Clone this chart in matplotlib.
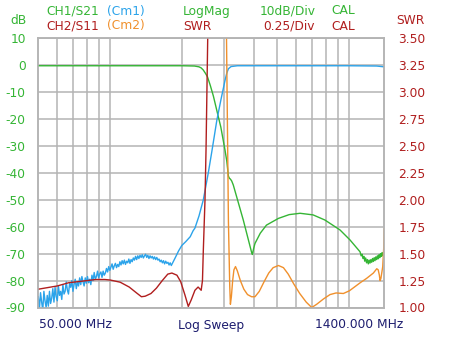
import numpy as np
import matplotlib.pyplot as plt

# Colours
GREEN = "#35b535"
RED = "#b01e1e"
BLUE = "#2ba3ea"
ORANGE = "#f0902c"
NAVY = "#1c1c6e"
GRID = "#b4b4b4"

# Sweep / scale settings
f_start, f_stop = 50, 1400
db_ticks = list(range(-90, 11, 10))
swr_ticks = [1.00, 1.25, 1.50, 1.75, 2.00, 2.25, 2.50, 2.75, 3.00, 3.25, 3.50]
grid_freqs = [60, 70, 80, 90, 100, 200, 300, 400, 500, 600, 700, 800, 900, 1000]

# CH1 S21 (green, dB)
s21_freq = [50, 100, 150, 200, 225, 235, 240, 245, 250, 255, 262, 270, 279, 290,
            302, 307, 312, 315, 318, 322, 327, 360, 390, 393, 398, 403, 424, 450,
            505, 560, 622, 705, 790, 914, 1006, 1108,
            1110, 1120, 1130, 1140, 1150, 1160, 1170, 1180, 1190, 1200,
            1210, 1220, 1230, 1240, 1250, 1260, 1270, 1280, 1290, 1300,
            1310, 1320, 1330, 1340, 1350, 1360, 1370, 1380, 1390, 1400]
s21_db = [-0.2, -0.2, -0.2, -0.2, -0.3, -0.6, -1.0, -1.8, -3.0, -4.3, -7.5, -11.5,
          -16.8, -23, -31.6, -35.5, -41.2, -42, -42.3, -43, -44.5, -57.5, -69.5,
          -70.3, -68, -66.2, -62.4, -59.4, -56.9, -55.5, -55, -55.6, -57.5, -61.2,
          -64.9, -69.3,
          -69.5, -70.8, -70.2, -71.8, -71, -72.8, -71.6, -73.4, -72.2, -73.8,
          -72.4, -73.5, -72.2, -73.2, -71.8, -72.9, -71.5, -72.6, -71.2, -72.2,
          -70.8, -71.9, -70.4, -71.5, -70, -71, -69.6, -70.8, -69.5, -70.2]

cm1_noise_db = [-86, -90.5, -84.5, -88, -91, -84, -87.5, -90, -85.5, -89.5, -84, -88.5,
                -86.5, -83, -88, -82.5, -86, -87.5, -82, -85.5, -84, -87, -81.5, -85,
                -84, -80.5, -83.5, -85, -81, -82.5, -80, -84, -81.5, -79.5, -83, -80.5,
                -82, -79, -81.5, -78.5, -80.5, -82, -79, -81, -78.5, -80.8, -79.5, -81.5,
                -78, -80, -77, -79.5, -78.5, -76.5, -79, -77.5, -76.8, -78.8, -76.5, -78,
                -77.2, -75.5, -76.8, -74.8, -76.2, -75, -73.8, -75.8, -74.5, -73.6, -75.2, -74,
                -74.8, -73, -74.2, -72.6, -73.8, -72.4, -74, -72.8, -73.4, -72, -73.6, -72.2,
                -73, -71.6, -72.4, -71, -72.2, -70.8, -71.8, -70.6, -71.4, -70.4, -71.6, -70.8,
                -70.2, -71.4, -70.6, -71.8, -70.8, -71.6, -71, -72, -71.2, -72.2, -71.4, -72.4,
                -72, -73, -72.4, -73.4, -72.6, -73.8, -72.8, -73.6, -73.2, -74.2, -73.4, -74.4]
cm1_noise_freq = np.geomspace(50, 180, len(cm1_noise_db))
cm1_freq = [187, 193, 199, 207, 216, 222, 226, 235, 245, 257, 266, 279, 290, 302,
            307, 312, 320, 340, 500, 1000, 1300, 1400]
cm1_db = [-71.5, -69, -67, -65.5, -63.7, -61.5, -60.5, -56, -50, -40, -32, -20.5,
          -13, -5.6, -3, -1.3, -0.5, -0.2, -0.2, -0.2, -0.3, -0.6]

# CH2 S11 (dark red, SWR)
s11_freq = [50, 60, 67, 80, 87, 95, 100, 110, 120, 128, 135, 140, 148, 156, 165,
            174, 181, 190, 197, 205, 212, 218, 226, 233, 240, 243, 245, 249, 251.5,
            256]
s11_swr = [1.17, 1.20, 1.23, 1.25, 1.26, 1.26, 1.255, 1.235, 1.19, 1.14, 1.10,
           1.105, 1.13, 1.18, 1.25, 1.31, 1.32, 1.30, 1.24, 1.12, 1.01, 1.07, 1.16,
           1.19, 1.16, 1.25, 1.53, 2.0, 2.47, 3.6]

# Cm2 (orange, SWR)
cm2_freq = [306, 308, 312, 316, 318, 321, 325, 329, 334, 340, 350, 362, 375, 390,
            403, 420, 440, 460, 480, 505, 530, 555, 585, 620, 660, 696, 730, 780,
            830, 880, 944, 1000, 1050, 1110, 1180, 1260, 1302, 1320, 1335, 1344,
            1355, 1379, 1392, 1400]
cm2_swr = [3.6, 3.0, 1.8, 1.2, 1.03, 1.10, 1.25, 1.35, 1.38, 1.34, 1.25, 1.17,
           1.12, 1.10, 1.10, 1.15, 1.24, 1.32, 1.37, 1.39, 1.37, 1.31, 1.22, 1.13,
           1.05, 1.00, 1.03, 1.08, 1.12, 1.135, 1.13, 1.155, 1.19, 1.23, 1.27,
           1.32, 1.36, 1.35, 1.30, 1.25, 1.27, 1.38, 1.55, 1.73]

plt.rcParams['font.family'] = ['DejaVu Sans']
FS = 8.8

fig = plt.figure(figsize=(4.5, 3.37), dpi=100)
W, H = 450, 337
ax = fig.add_axes([38.3 / W, 1 - 307.5 / H, 346 / W, 269.2 / H])
ax2 = ax.twinx()

ax.set_xscale('log')
ax.set_xlim(f_start, f_stop)
ax.set_ylim(-90, 10)
ax2.set_ylim(1.0, 3.5)

ax.set_xticks(grid_freqs)
ax.set_xticks([], minor=True)
ax.set_xticklabels([])
ax.set_yticks(db_ticks)
ax.set_yticklabels([str(t) for t in db_ticks])
ax2.set_yticks(swr_ticks)
ax2.set_yticklabels([f"{t:.2f}" for t in swr_ticks])

ax.grid(True, color=GRID, linewidth=1.1)
ax.tick_params(axis='both', length=0)
ax.tick_params(axis='y', labelcolor=GREEN, labelsize=FS, pad=9)
ax2.tick_params(axis='y', length=0, labelcolor=RED, labelsize=FS, pad=10)
for a in (ax, ax2):
    for s in a.spines.values():
        s.set_color(GRID)
        s.set_linewidth(1.1)

# Traces
ax.plot(s21_freq, s21_db, color=GREEN, lw=1.0, zorder=3)
ax.plot(np.concatenate([cm1_noise_freq, cm1_freq]), cm1_noise_db + cm1_db,
        color=BLUE, lw=1.0, zorder=4)
ax2.plot(s11_freq, s11_swr, color=RED, lw=1.0)
ax2.plot(cm2_freq, cm2_swr, color=ORANGE, lw=1.0)

# Header text
def txt(x, y, s, c, ha='left'):
    fig.text(x / W, 1 - y / H, s, color=c, fontsize=FS, ha=ha, va='center')

txt(10, 20, "dB", GREEN)
txt(46.7, 11, "CH1/S21", GREEN)
txt(106.7, 11, "(Cm1)", BLUE)
txt(183, 11, "LogMag", GREEN)
txt(260, 11, "10dB/Div", GREEN)
txt(331, 11, "CAL", GREEN)
txt(46.7, 26, "CH2/S11", RED)
txt(106.7, 26, "(Cm2)", ORANGE)
txt(183, 26, "SWR", RED)
txt(263, 26, "0.25/Div", RED)
txt(331.7, 26, "CAL", RED)
txt(396, 20.7, "SWR", RED)

txt(39, 325, "50.000 MHz", NAVY)
txt(211, 325, "Log Sweep", NAVY, ha='center')
txt(403, 325, "1400.000 MHz", NAVY, ha='right')

fig.savefig("out.png", dpi=100)
